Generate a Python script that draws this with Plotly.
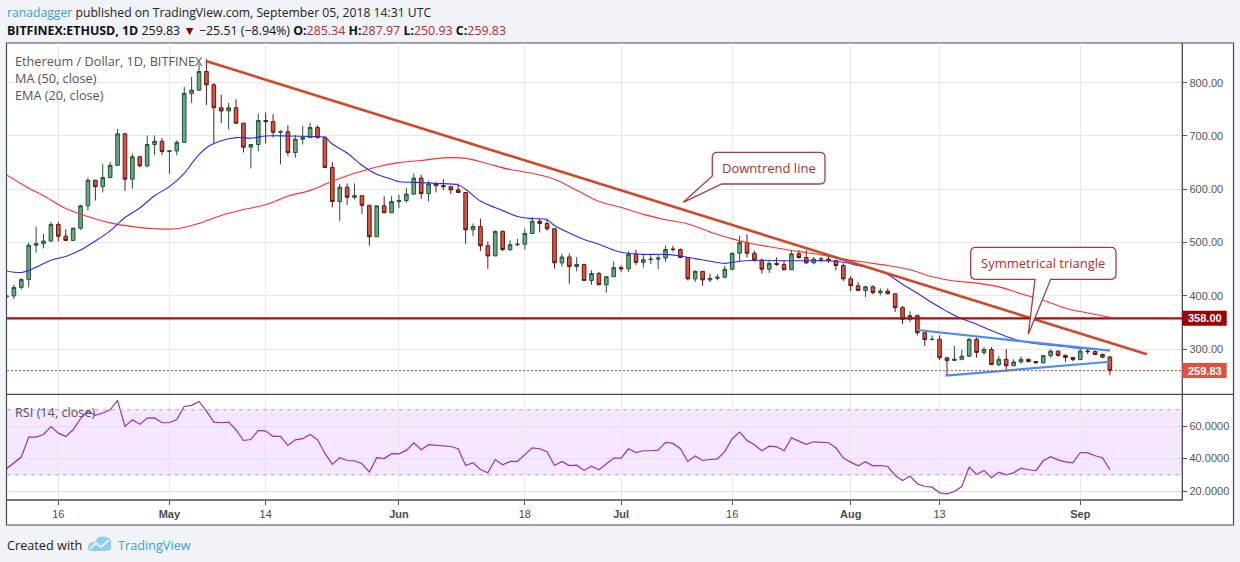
import pandas as pd
import plotly.graph_objects as go

W, H = 1240, 562

# ---- data ----
dates = pd.date_range("2018-04-09", "2018-09-05", freq="D")

opens = [398, 400, 416, 431, 495, 498, 503, 534, 512, 504, 527, 569, 617, 605, 622, 645, 704, 619, 661, 644, 684, 690,
         671, 672, 688, 780, 786, 821, 796, 753, 747, 753, 724, 679, 684, 729, 727, 707, 708, 669, 694, 697, 716, 697,
         641, 577, 604, 585, 588, 570, 511, 569, 556,
         577, 579, 591, 621, 592, 610, 607, 605, 599, 594, 524, 530, 494, 475, 521, 487, 496, 497, 517, 540, 536, 526,
         462, 473, 455, 459, 429, 442, 421, 436,
         453, 451, 478, 463, 468, 469, 471, 488, 487, 472, 432, 446, 430, 433, 435, 450, 480, 500, 480, 467, 450, 461,
         459, 449, 479, 472, 462, 469, 469, 466, 457,
         432, 419, 410, 417, 406, 409, 404, 378, 356, 363, 331, 318, 318.5, 284, 279, 281, 287, 318.5, 294, 299.5,
         271, 281, 269, 276, 281, 277, 274.5, 288, 296.5, 288.5, 284.5,
         280.5, 296.5, 295.5, 290, 285.34]
highs = [425, 421, 433, 500, 530, 516, 539, 539, 525, 528, 571, 622, 618, 647, 651, 713, 706, 667, 663, 701, 701, 696,
         673, 692, 792, 811, 836, 845, 799, 777, 762, 769, 725, 684, 742, 744, 741, 711, 720, 702, 719, 725, 720, 700,
         651, 610, 611, 611, 588, 570, 569, 587, 587,
         590, 602, 630, 627, 616, 614, 619, 606, 611, 594, 536, 545, 502, 523, 523, 504, 507, 526, 548, 545, 545, 526,
         479, 479, 473, 459, 448, 445, 437, 465,
         457, 484, 487, 477, 477, 477, 494, 494, 489, 472, 448, 446, 442, 441, 456, 481, 513, 516, 485, 470, 467, 472,
         467, 486, 486, 486, 473, 473, 473, 468, 461,
         437, 426, 419, 420, 414, 414, 404, 381, 371, 365, 331, 326, 326, 284, 306, 299, 321, 322, 304, 304,
         287, 300, 281, 286, 282.5, 278, 289, 299.5, 296.5, 290, 285.7,
         302.7, 301.5, 298, 292, 287.97]
lows = [393, 394, 412, 416, 481, 489, 502, 502, 503, 503, 524, 560, 579, 594, 621, 644, 597, 601, 641, 641, 664, 664,
        629, 664, 687, 762, 785, 758, 687, 724, 712, 723, 669, 639, 671, 686, 697, 647, 663, 659, 684, 697, 695, 640,
        566, 541, 571, 581, 554, 494, 511, 556, 555,
        565, 575, 590, 582, 577, 594, 599, 591, 594, 498, 512, 484, 451, 475, 484, 484, 493, 487, 517, 519, 522, 451,
        455, 423, 446, 428, 421, 420, 406, 436,
        445, 445, 458, 453, 460, 450, 464, 483, 472, 429, 426, 419, 426, 429, 433, 448, 465, 472, 464, 442, 443, 456,
        448, 449, 470, 460, 459, 464, 462, 448, 428,
        409, 410, 398, 403, 401, 403, 370, 347, 351, 326, 306, 317, 280, 250, 278, 279, 286, 284, 289, 270,
        268, 260, 268, 273, 275, 273, 273, 284, 285.5, 276, 277.5,
        280.5, 290.7, 288.8, 283, 250.93]
closes = [400, 416, 431, 495, 498, 503, 534, 512, 504, 527, 569, 617, 605, 622, 645, 704, 619, 661, 644, 684, 690, 671,
          672, 688, 780, 786, 821, 796, 753, 747, 753, 724, 679, 684, 729, 727, 707, 708, 669, 694, 697, 716, 697, 641,
          577, 604, 585, 588, 570, 511, 569, 556, 577,
          579, 591, 621, 592, 610, 607, 605, 599, 594, 524, 530, 494, 475, 521, 487, 496, 497, 517, 540, 536, 526, 462,
          473, 455, 459, 429, 442, 421, 436, 453,
          451, 478, 463, 468, 469, 471, 487, 487, 472, 432, 446, 430, 433, 435, 450, 480, 500, 480, 467, 450, 461, 459,
          449, 479, 472, 462, 469, 469.5, 466, 457, 432,
          419, 410, 417, 406, 409, 404, 378, 356, 363, 331, 318, 318.5, 284, 279, 281, 287, 318.5, 294, 299.5, 271,
          281, 269, 276, 281, 277, 274.5, 288, 296.5, 288.5, 284.5, 280.5,
          296.5, 295.5, 290, 285.34, 259.83]

ma50_dates = ["2018-04-09", "2018-04-12", "2018-04-14", "2018-04-17", "2018-04-20", "2018-04-23", "2018-04-26",
              "2018-04-29", "2018-05-02", "2018-05-05", "2018-05-08", "2018-05-11", "2018-05-14", "2018-05-17",
              "2018-05-20", "2018-05-23", "2018-05-26", "2018-05-29", "2018-06-01", "2018-06-04", "2018-06-07",
              "2018-06-10", "2018-06-13", "2018-06-16", "2018-06-19", "2018-06-22", "2018-06-25", "2018-06-28",
              "2018-07-01", "2018-07-04", "2018-07-07", "2018-07-10", "2018-07-13", "2018-07-16", "2018-07-19",
              "2018-07-22", "2018-07-25", "2018-07-28", "2018-07-31", "2018-08-03", "2018-08-06", "2018-08-09",
              "2018-08-12", "2018-08-15", "2018-08-18", "2018-08-21", "2018-08-24", "2018-08-27", "2018-08-30",
              "2018-09-02", "2018-09-05"]
ma50 = [627, 602, 588, 564, 549, 537, 530, 526, 526, 536, 551, 562, 571, 587, 598, 615, 630, 642, 650, 654, 659,
        658, 648, 637, 630, 619, 598, 577, 566, 553, 543, 535, 520, 507, 497, 490, 483, 477, 469, 463, 457, 449,
        436, 428, 424, 417, 404, 392, 377, 368, 360]

ema20_dates = ["2018-04-09", "2018-04-11", "2018-04-13", "2018-04-15", "2018-04-17", "2018-04-19", "2018-04-21",
               "2018-04-23", "2018-04-25", "2018-04-27", "2018-04-29", "2018-05-01", "2018-05-03", "2018-05-04",
               "2018-05-05", "2018-05-06", "2018-05-08", "2018-05-10", "2018-05-12", "2018-05-14", "2018-05-17",
               "2018-05-20", "2018-05-22", "2018-05-23", "2018-05-25", "2018-05-27", "2018-05-29", "2018-05-31",
               "2018-06-01", "2018-06-03", "2018-06-06", "2018-06-09", "2018-06-10", "2018-06-12", "2018-06-15",
               "2018-06-17", "2018-06-19", "2018-06-21", "2018-06-22", "2018-06-24", "2018-06-26", "2018-06-28",
               "2018-06-30", "2018-07-01", "2018-07-04", "2018-07-07", "2018-07-09", "2018-07-11", "2018-07-13",
               "2018-07-15", "2018-07-17", "2018-07-20", "2018-07-23", "2018-07-26", "2018-07-29", "2018-07-31",
               "2018-08-02", "2018-08-04", "2018-08-06", "2018-08-08", "2018-08-10", "2018-08-12", "2018-08-14",
               "2018-08-16", "2018-08-18", "2018-08-20", "2018-08-22", "2018-08-24", "2018-08-27", "2018-08-29",
               "2018-08-31", "2018-09-03", "2018-09-05"]
ema20 = [447, 444, 454, 467, 474, 486, 503, 522, 547, 565, 588, 605, 630, 648, 665, 678, 691, 697, 696, 700, 700,
         699, 697, 685, 668, 645, 628, 619, 614, 613, 611, 608, 600, 578, 560, 549, 545, 543, 532, 518, 506, 497,
         486, 482, 478, 478, 475, 470, 465, 461, 465, 467, 466, 466, 466, 463, 457, 451, 440, 422, 405, 387, 371,
         357, 347, 335, 324, 315, 309, 306, 303, 300, 298]

rsi14 = [33.7, 37.2, 40.9, 53.2, 53.2, 54.8, 59.7, 55.6, 53.6, 57.7, 64.5, 69.2, 66.5, 68, 70, 75.7, 59.7, 63.8,
         61, 64.9, 65, 62,
         62, 64, 72, 72.7, 75.1, 69.2, 62.4, 62, 62.4, 57.7, 51.1, 51.7, 57.3, 56.9, 53.6, 53.6, 48, 51.5, 52.2,
         54.8, 51.5, 43.3, 36.4, 40.5, 38.8, 38.6, 36.8, 31.6, 40.5, 40, 43,
         42.9, 45, 49.7, 45.4, 48.5, 48, 47.8, 47.4, 46, 35.7, 37.4, 33.3, 31.2, 39.4, 36.2, 38.2, 38.2, 42.5, 46.6,
         46, 44.2, 35.7, 38.2, 35.7, 35.9, 32.7, 35.3, 33.1, 36.8, 40.3,
         40.3, 46, 43.7, 44.8, 44.8, 45.2, 49.9, 49.3, 46, 38.2, 41.5, 38.8, 39.4, 39.8, 44.4, 52.2, 56.3, 51.1,
         48.5, 44.8, 47.6, 47.2, 44.8, 52.8, 50.7, 48.7, 50.3, 50.1, 49.7, 46.6, 40.3,
         37.8, 35.5, 38, 35.5, 35.7, 35.1, 29.6, 26.5, 29.2, 24.5, 22.8, 22.4, 18.9, 18.3, 19.7, 22.8, 34.7, 30.2,
         32.7, 28.2, 31.6, 30, 31.2, 34.1, 33.1, 32.5, 38.6, 41.1, 39.2, 38, 37.4,
         43.7, 43.5, 41.7, 40.5, 33.1]

downtrend_x = ["2018-05-05 22:00", "2018-09-10"]
downtrend_y = [840.7, 290.4]
tri_upper_x = ["2018-08-10", "2018-09-05"]
tri_upper_y = [336.0, 297.2]
tri_lower_x = ["2018-08-13 19:00", "2018-09-05"]
tri_lower_y = [250.3, 276.5]
support = 358.0
last_close = closes[-1]

price_ticks = [300, 400, 500, 600, 700, 800]
rsi_ticks = [20, 40, 60]
date_ticks = ["2018-04-16", "2018-05-01", "2018-05-14", "2018-06-01", "2018-06-18", "2018-07-01",
              "2018-07-16", "2018-08-01", "2018-08-13", "2018-09-01"]
date_labels = ["16", "<b>May</b>", "14", "<b>Jun</b>", "18", "<b>Jul</b>", "16", "<b>Aug</b>", "13", "<b>Sep</b>"]


def px(x):
    return x / W


def py(y):
    return 1 - y / H


PL, PR = 7, 1182.3          # plot area left/right (pixels)
PT, PM, PB = 43.3, 394.3, 500  # price top, separator, rsi bottom
GRID = "#e8e8e8"
AXF = dict(family="Liberation Sans, Arial", size=11, color="#555555")
TXT = "Open Sans, Noto Sans, sans-serif"

fig = go.Figure()

fig.add_trace(go.Candlestick(
    x=dates, open=opens, high=highs, low=lows, close=closes,
    increasing=dict(fillcolor="#6ba583", line=dict(color="#225437", width=1)),
    decreasing=dict(fillcolor="#d75442", line=dict(color="#5b1a13", width=1)),
    whiskerwidth=0, showlegend=False, hoverinfo="skip", xaxis="x", yaxis="y"))

fig.add_trace(go.Scatter(x=ma50_dates, y=ma50, mode="lines", line=dict(color="#ff3030", width=1.1, shape="spline"),
                         showlegend=False, hoverinfo="skip", xaxis="x", yaxis="y"))
fig.add_trace(go.Scatter(x=ema20_dates, y=ema20, mode="lines", line=dict(color="#2a2aff", width=1.1, shape="spline"),
                         showlegend=False, hoverinfo="skip", xaxis="x", yaxis="y"))

fig.add_trace(go.Scatter(x=downtrend_x, y=downtrend_y, mode="lines", line=dict(color="#d0482a", width=2.6),
                         showlegend=False, hoverinfo="skip", xaxis="x", yaxis="y"))
for tx, ty in [(tri_upper_x, tri_upper_y), (tri_lower_x, tri_lower_y)]:
    fig.add_trace(go.Scatter(x=tx, y=ty, mode="lines", line=dict(color="#4a8fe8", width=2.2),
                             showlegend=False, hoverinfo="skip", xaxis="x", yaxis="y"))

fig.add_trace(go.Scatter(x=dates, y=rsi14, mode="lines", line=dict(color="#9c2fb4", width=1.2),
                         showlegend=False, hoverinfo="skip", xaxis="x2", yaxis="y2"))

xr = ["2018-04-09 01:40", "2018-09-14 18:40"]
common_x = dict(type="date", range=xr, domain=[px(PL), px(PR)], tickvals=date_ticks, showgrid=True,
                gridcolor=GRID, gridwidth=1, zeroline=False, showline=False)
fig.update_layout(
    width=W, height=H, margin=dict(l=0, r=0, t=0, b=0),
    paper_bgcolor="#f0f3f7", plot_bgcolor="white",
    xaxis=dict(**common_x, anchor="y", showticklabels=False, rangeslider=dict(visible=False)),
    xaxis2=dict(**common_x, anchor="y2", matches="x", ticktext=date_labels, ticks="outside", ticklen=4,
                tickcolor="#555555", tickfont=dict(family="Liberation Sans, Arial", size=11, color="#4a4a4a")),
    yaxis=dict(domain=[py(PM), py(PT)], range=[215.4, 873.9], side="right", anchor="x", tickvals=price_ticks,
               ticktext=[f"{v:.2f}" for v in price_ticks], ticks="outside", ticklen=4, tickcolor="#555555",
               tickfont=AXF, gridcolor=GRID, zeroline=False, showline=False),
    yaxis2=dict(domain=[py(PB), py(PM)], range=[14.5, 79.5], side="right", anchor="x2", tickvals=rsi_ticks,
                ticktext=[f"{v:.4f}" for v in rsi_ticks], ticks="outside", ticklen=4, tickcolor="#555555",
                tickfont=AXF, gridcolor="#e2dde6", zeroline=False, showline=False),
)

shapes = []
# white chart card behind everything
shapes.append(dict(type="rect", xref="paper", yref="paper", x0=px(6.5), x1=px(1233.5), y0=py(525), y1=py(43),
                   fillcolor="white", line=dict(color="#4a4a4a", width=1.2), layer="below"))
# RSI band and its dashed limits
shapes.append(dict(type="rect", xref="paper", yref="y2", x0=px(PL), x1=px(PR), y0=30, y1=70,
                   fillcolor="rgba(153,21,255,0.1)", line=dict(width=0), layer="below"))
for lvl in (30, 70):
    shapes.append(dict(type="line", xref="paper", yref="y2", x0=px(PL), x1=px(PR), y0=lvl, y1=lvl,
                       line=dict(color="#b3a2ba", width=1, dash="4px,4px")))
# support and last price lines
shapes.append(dict(type="line", xref="paper", yref="y", x0=px(PL), x1=px(PR), y0=support, y1=support,
                   line=dict(color="#a01010", width=2.2)))
shapes.append(dict(type="line", xref="paper", yref="y", x0=px(PL), x1=px(PR), y0=last_close, y1=last_close,
                   line=dict(color="#e0402a", width=1, dash="2px,2px")))
# frame lines
for (x0, y0, x1, y1) in [(PL, PM, 1233.5, PM), (PL, PB, PR, PB), (PR, 43, PR, PB)]:
    shapes.append(dict(type="line", xref="paper", yref="paper", x0=px(x0), y0=py(y0), x1=px(x1), y1=py(y1),
                       line=dict(color="#4a4a4a", width=1.3)))
# price labels on axis
for val, col in [(support, "#990000"), (last_close, "#db5442")]:
    shapes.append(dict(type="rect", xref="paper", yref="y", x0=px(PR), x1=px(1226.7),
                       y0=val - 7.5 / 0.533, y1=val + 7.5 / 0.533, fillcolor=col, line=dict(width=0)))

# Downtrend line callout (pointer leaves bottom-left corner)
p1 = (f"M{px(717.3)},{py(152.3)} L{px(820)},{py(152.3)} Q{px(825)},{py(152.3)} {px(825)},{py(157.3)} "
      f"L{px(825)},{py(179)} Q{px(825)},{py(184)} {px(820)},{py(184)} L{px(721.7)},{py(184)} "
      f"L{px(683.3)},{py(202.3)} L{px(712.3)},{py(176)} L{px(712.3)},{py(157.3)} "
      f"Q{px(712.3)},{py(152.3)} {px(717.3)},{py(152.3)} Z")
# Symmetrical triangle callout (pointer from bottom edge)
p2 = (f"M{px(975.7)},{py(247.3)} L{px(1111)},{py(247.3)} Q{px(1116)},{py(247.3)} {px(1116)},{py(252.3)} "
      f"L{px(1116)},{py(274.3)} Q{px(1116)},{py(279.3)} {px(1111)},{py(279.3)} L{px(1050.7)},{py(279.3)} "
      f"L{px(1028.3)},{py(334.3)} L{px(1035)},{py(279.3)} L{px(975.7)},{py(279.3)} "
      f"Q{px(970.7)},{py(279.3)} {px(970.7)},{py(274.3)} L{px(970.7)},{py(252.3)} "
      f"Q{px(970.7)},{py(247.3)} {px(975.7)},{py(247.3)} Z")
for p in (p1, p2):
    shapes.append(dict(type="path", xref="paper", yref="paper", path=p, fillcolor="rgba(255,255,255,0.88)",
                       line=dict(color="#a83c3c", width=1.3)))

# TradingView logo (simplified)
logo = (f"M{px(88)},{py(548)} Q{px(88)},{py(541)} {px(95)},{py(542)} Q{px(98)},{py(535)} {px(105)},{py(537)} "
        f"Q{px(112)},{py(537)} {px(111)},{py(544)} Q{px(113)},{py(551)} {px(106)},{py(551)} L{px(92)},{py(551)} "
        f"Q{px(88)},{py(551)} {px(88)},{py(548)} Z")
shapes.append(dict(type="path", xref="paper", yref="paper", path=logo, fillcolor="#8fd0f2", line=dict(width=0)))
shapes.append(dict(type="path", xref="paper", yref="paper",
                   path=f"M{px(90)},{py(549)} L{px(96)},{py(543)} L{px(101)},{py(547)} L{px(109)},{py(540)}",
                   line=dict(color="white", width=1.6)))
fig.update_layout(shapes=shapes)

ann = []


def label(x, y, text, size=12.7, color="#555555", family=TXT, xanchor="left"):
    ann.append(dict(xref="paper", yref="paper", x=px(x), y=py(y), text=text, showarrow=False, xanchor=xanchor,
                    yanchor="middle", font=dict(family=family, size=size, color=color)))


RED = "#c0262c"
label(5, 12.5, "<span style='color:#3a9fdb'>ranadagger</span> published on TradingView.com, "
               "September 05, 2018 14:31 UTC", size=12.2, color="#222222")
label(5, 30, f"<b>BITFINEX:ETHUSD, 1D</b> 259.83 <span style='color:#8b0000'>▼</span> −25.51 (−8.94%) "
             f"<b>O:</b><span style='color:{RED}'>{opens[-1]:.2f}</span> "
             f"<b>H:</b><span style='color:{RED}'>{highs[-1]:.2f}</span> "
             f"<b>L:</b><span style='color:{RED}'>{lows[-1]:.2f}</span> "
             f"<b>C:</b><span style='color:{RED}'>{closes[-1]:.2f}</span>", size=12.4, color="#111111")
label(13, 61, "Ethereum / Dollar, 1D, BITFINEX")
label(13, 78, "MA (50, close)")
label(13, 95, "EMA (20, close)")
label(13, 412, "RSI (14, close)")
label(768.7, 168, "Downtrend line", size=13, color="#a83232", xanchor="center")
label(1043.4, 263.3, "Symmetrical triangle", size=13, color="#a83232", xanchor="center")
label(5, 545, "Created with", size=12.7, color="#222222")
label(116, 545, "TradingView", size=12.7, color="#3a9fdb")
for val in (support, last_close):
    ann.append(dict(xref="paper", yref="y", x=px(1204.5), y=val, text=f"<b>{val:.2f}</b>", showarrow=False,
                    xanchor="center", yanchor="middle",
                    font=dict(family="Liberation Sans, Arial", size=11, color="white")))
fig.update_layout(annotations=ann)

# the page body has a default 8px margin; remove it so the figure sits at the window origin
fig.write_html("out.html", config={"displayModeBar": False},
               post_script="document.body.style.margin='0';")
